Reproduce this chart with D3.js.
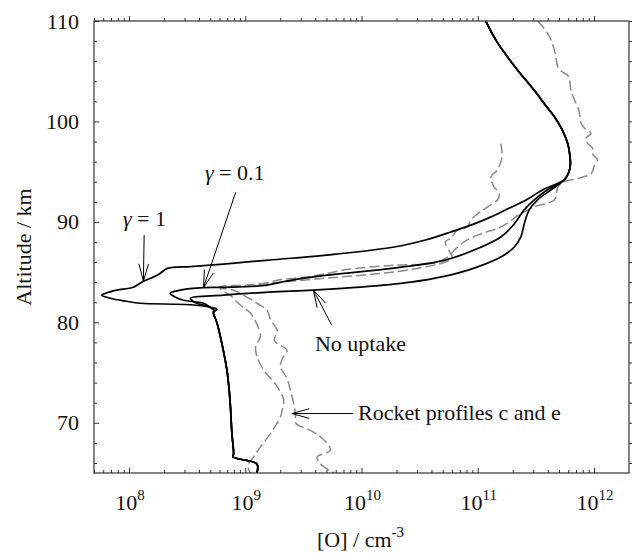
<!DOCTYPE html>
<html><head><meta charset="utf-8">
<script src="https://cdn.jsdelivr.net/npm/d3@7"></script>
<style>
html,body{margin:0;padding:0;background:#fff;}
svg text{font-family:"Liberation Serif","Times New Roman",serif;}
</style></head>
<body><svg id="c" width="634" height="553"></svg>
<script>
// ---------- data ----------
// shared upper part of the three model profiles (altitude km, [O] cm^-3)
const topAlt = [110, 108, 106.4, 105, 103.1, 101.5, 100.5, 99.3, 97.8, 96.8, 95.8, 95.0, 94.2];
const topVal = [1.17e11, 1.45e11, 1.81e11, 2.24e11, 3.06e11, 3.89e11, 4.55e11, 5.25e11, 5.94e11, 6.17e11, 6.27e11, 6.1e11, 5.56e11];
// shared lower part
const lowAlt = [81.2, 80.9, 80.0, 78.6, 77.0, 75.2, 73.5, 71.9, 69.0, 66.9, 66.6, 65.9, 65.0];
const lowVal = [5.37e8, 5.33e8, 5.69e8, 6.1e8, 6.53e8, 6.97e8, 7.24e8, 7.43e8, 7.67e8, 7.94e8, 7.85e8, 1.26e9, 1.26e9];
// gamma = 1
const g1Alt = [93.2, 92.2, 91.3, 90.5, 89.8, 89.0, 88.2, 87.5, 86.7, 86.2, 85.8, 85.55, 85.37, 84.87, 84.5, 84.1, 83.5, 83.2, 82.9, 82.7, 82.4, 82.1, 81.9, 81.75, 81.5, 81.3, 81.05];
const g1Val = [3.63e11, 2.63e11, 1.81e11, 1.30e11, 9.33e10, 5.89e10, 3.55e10, 1.91e10, 5.0e9, 1.6e9, 6.5e8, 3.36e8, 2.14e8, 1.85e8, 1.62e8, 1.33e8, 1.09e8, 7.85e7, 6.3e7, 5.82e7, 6.9e7, 9.5e7, 1.25e8, 3.36e8, 5.0e8, 5.7e8, 5.33e8];
// gamma = 0.1
const g01Alt = [93.2, 92.2, 91.2, 89.8, 88.5, 87.2, 86.2, 85.4, 84.7, 84.2, 83.65, 83.48, 83.45, 83.2, 82.9, 82.5, 82.2, 81.9, 81.5];
const g01Val = [3.98e11, 3.06e11, 2.51e11, 2.06e11, 1.58e11, 9.31e10, 5.25e10, 1.9e10, 5.07e9, 2.5e9, 1.4e9, 6.5e8, 4.37e8, 2.75e8, 2.26e8, 2.51e8, 2.95e8, 4.37e8, 5.0e8];
// no uptake
const nuAlt = [93.2, 92.2, 91.2, 89.8, 88.5, 87.5, 86.5, 85.4, 84.6, 84.0, 83.5, 83.2, 83.0, 82.7, 82.4, 82.1, 81.9, 81.5];
const nuVal = [4.27e11, 3.27e11, 2.77e11, 2.51e11, 2.35e11, 2.06e11, 1.58e11, 9.31e10, 5.25e10, 2.65e10, 9.8e9, 3.77e9, 1.6e9, 6.5e8, 3.37e8, 3.55e8, 3.84e8, 5.0e8];
// rocket profile c
const rcAlt = [110, 108.8, 107.1, 105.4, 105.0, 104.5, 103.2, 102.2, 101.1, 99.8, 99.2, 98.8, 98.3, 97.8, 97.3, 96.7, 96.2, 95.5, 94.8, 94.3, 94.0, 93.5, 92.2, 91.5, 90.8, 89.5, 88.8, 88.2, 87.5, 86.5, 85.9, 85.7, 85.3, 84.6, 84.2, 83.8, 83.5, 83.4, 83.2, 82.6, 81.9, 81.2, 80.2, 79.2, 78.2, 77.2, 76.4, 75.6, 74.4, 73.2, 71.9, 70.9, 69.9, 69.3, 68.6, 67.3, 66.6, 65.9, 65.0];
const rcVal = [3.27e11, 3.98e11, 4.57e11, 4.9e11, 5.25e11, 6.03e11, 6.31e11, 6.76e11, 7.41e11, 7.76e11, 8.5e11, 9.44e11, 8.5e11, 8.85e11, 9.77e11, 9.77e11, 1.07e12, 1.0e12, 9.44e11, 7.08e11, 5.56e11, 4.9e11, 4.57e11, 3.06e11, 2.34e11, 1.58e11, 1.06e11, 8.13e10, 6.7e10, 5.5e10, 4.21e10, 2.0e10, 7.94e9, 3.8e9, 1.88e9, 1.35e9, 7.08e8, 6.3e8, 7.94e8, 1.0e9, 1.26e9, 1.54e9, 1.66e9, 1.88e9, 1.78e9, 2.29e9, 2.09e9, 2.01e9, 2.29e9, 2.45e9, 2.61e9, 2.7e9, 2.75e9, 3.55e9, 4.44e9, 5.41e9, 4.15e9, 4.44e9, 5.78e9];
// rocket profile e
const reAlt = [97.8, 96.5, 95.2, 94.5, 93.5, 92.8, 92.2, 91.5, 90.8, 90.2, 89.5, 89.2, 88.4, 88.0, 87.0, 86.4, 86.0, 85.3, 84.8, 84.4, 84.0, 83.7, 83.5, 83.2, 82.7, 81.8, 80.9, 79.8, 78.6, 77.6, 76.6, 75.2, 74.4, 73.6, 72.3, 71.4, 70.6, 68.9, 67.6, 66.6, 65.9, 65.3, 65.0];
const reVal = [1.58e11, 1.62e11, 1.48e11, 1.30e11, 1.38e11, 1.53e11, 1.48e11, 1.22e11, 1.0e11, 8.71e10, 8.13e10, 6.7e10, 5.89e10, 5.25e10, 5.75e10, 6.03e10, 5.25e10, 2.82e10, 1.26e10, 5.0e9, 2.0e9, 1.0e9, 6.03e8, 6.3e8, 7.41e8, 8.91e8, 1.11e9, 1.26e9, 1.35e9, 1.23e9, 1.26e9, 1.45e9, 1.66e9, 1.88e9, 2.14e9, 2.09e9, 2.01e9, 1.64e9, 1.35e9, 1.18e9, 1.07e9, 1.07e9, 1.12e9];

const xMajor = [1e8, 1e9, 1e10, 1e11, 1e12];
const xMajorExp = ["8", "9", "10", "11", "12"];
const yMajor = [70, 80, 90, 100, 110];

// annotations: [label, textVal, textAlt, tailVal, tailAlt, tipVal, tipAlt]
const notes = [
  ["γ|= 1", 8.87e7, 89.59, 1.35e8, 88.69, 1.33e8, 84.1],
  ["γ|= 0.1", 4.5e8, 94.17, 8.28e8, 92.95, 4.37e8, 83.45],
  ["No uptake", 3.98e9, 77.14, 5.54e9, 79.73, 3.85e9, 83.22],
  ["Rocket profiles c and e", 9.33e9, 70.27, 8.45e9, 70.92, 2.52e9, 70.92]
];

// ---------- chart ----------
const FONT = "Liberation Serif, Times New Roman, serif";
const svg = d3.select("#c");
const L = 94, R = 629, T = 21, B = 473;
const x = d3.scaleLog().domain([5e7, 2e12]).range([L, R]);
const y = d3.scaleLinear().domain([65, 110]).range([B, T]);
const FS = 22;

function zip(a, v) { return a.map((d, i) => ({alt: d, val: v[i]})); }
const modelG1 = zip(topAlt, topVal).concat(zip(g1Alt, g1Val), zip(lowAlt, lowVal));
const modelG01 = zip(topAlt, topVal).concat(zip(g01Alt, g01Val), zip(lowAlt, lowVal));
const modelNU = zip(topAlt, topVal).concat(zip(nuAlt, nuVal), zip(lowAlt, lowVal));

svg.append("clipPath").attr("id", "pc").append("rect")
  .attr("x", L).attr("y", T).attr("width", R - L).attr("height", B - T);

const smooth = d3.line().x(d => x(d.val)).y(d => y(d.alt)).curve(d3.curveCatmullRom.alpha(0.5));

const plot = svg.append("g").attr("clip-path", "url(#pc)");
[zip(rcAlt, rcVal), zip(reAlt, reVal)].forEach(p => {
  plot.append("path").attr("d", smooth(p)).attr("fill", "none")
    .attr("stroke", "#8a8a8a").attr("stroke-width", 1.5).attr("stroke-dasharray", "10,4");
});
[modelG1, modelG01, modelNU].forEach(p => {
  plot.append("path").attr("d", smooth(p)).attr("fill", "none")
    .attr("stroke", "#000").attr("stroke-width", 1.7).attr("stroke-linejoin", "round");
});

// frame
svg.append("rect").attr("x", L).attr("y", T).attr("width", R - L).attr("height", B - T)
  .attr("fill", "none").attr("stroke", "#333").attr("stroke-width", 1.2);

const xMinor = [];
[7, 8, 9, 10, 11].forEach(e => { for (let m = 2; m <= 9; m++) { const v = m * Math.pow(10, e); if (v >= 5e7 && v <= 2e12) xMinor.push(v); } });
const yMinor = d3.range(66, 110, 2).filter(v => v % 10 !== 0);

function styleAxis(g) { g.select(".domain").remove(); g.selectAll("line").attr("stroke", "#333").attr("stroke-width", 1); }

svg.append("g").attr("transform", `translate(0,${B})`).call(d3.axisBottom(x).tickValues(xMinor).tickSize(-3).tickFormat("")).call(styleAxis);
svg.append("g").attr("transform", `translate(0,${B})`).call(d3.axisBottom(x).tickValues(xMajor).tickSize(-5).tickFormat("")).call(styleAxis);
svg.append("g").attr("transform", `translate(0,${T})`).call(d3.axisTop(x).tickValues(xMinor).tickSize(3).tickFormat("")).call(styleAxis);
svg.append("g").attr("transform", `translate(0,${T})`).call(d3.axisTop(x).tickValues(xMajor).tickSize(5).tickFormat("")).call(styleAxis);
svg.append("g").attr("transform", `translate(${L},0)`).call(d3.axisLeft(y).tickValues(yMinor).tickSize(-3).tickFormat("")).call(styleAxis);
svg.append("g").attr("transform", `translate(${L},0)`)
  .call(d3.axisLeft(y).tickValues(yMajor).tickSize(-5).tickPadding(15).tickFormat(d3.format("d")))
  .attr("font-family", FONT).attr("font-size", FS)
  .call(styleAxis)
  .call(g => g.selectAll("text").attr("fill", "#111"));
svg.append("g").attr("transform", `translate(${R},0)`).call(d3.axisRight(y).tickValues(yMinor.concat(yMajor)).tickSize(3).tickFormat("")).call(styleAxis);

// x tick labels 10^n
xMajor.forEach((v, i) => {
  const t = svg.append("text").attr("x", x(v) + 1).attr("y", 510).attr("text-anchor", "middle")
    .attr("font-family", FONT).attr("font-size", FS).attr("fill", "#111");
  t.append("tspan").text("10");
  t.append("tspan").attr("dy", -10).attr("font-size", 15).text(xMajorExp[i]);
});

// axis titles
const xt = svg.append("text").attr("x", (L + R) / 2 - 1).attr("y", 547).attr("text-anchor", "middle")
  .attr("font-family", FONT).attr("font-size", FS).attr("fill", "#111");
xt.append("tspan").text("[O] / cm");
xt.append("tspan").attr("dy", -10).attr("font-size", 15).text("-3");

svg.append("text").attr("transform", `translate(31,${(T + B) / 2}) rotate(-90)`).attr("text-anchor", "middle")
  .attr("font-family", FONT).attr("font-size", FS).attr("fill", "#111").text("Altitude / km");

// annotations
notes.forEach(n => {
  const [label, tv, ta, av, aa, pv, pa] = n;
  const t = svg.append("text").attr("x", x(tv)).attr("y", y(ta))
    .attr("font-family", FONT).attr("font-size", FS).attr("fill", "#111");
  if (label.includes("|")) {
    const [a, b] = label.split("|");
    t.append("tspan").attr("font-style", "italic").text(a);
    t.append("tspan").text(" " + b);
  } else t.text(label);
  const x1 = x(av), y1 = y(aa), x2 = x(pv), y2 = y(pa);
  svg.append("line").attr("x1", x1).attr("y1", y1).attr("x2", x2).attr("y2", y2).attr("stroke", "#000").attr("stroke-width", 1);
  const ang = Math.atan2(y1 - y2, x1 - x2), hl = 18, ha = 0.27;
  [ang - ha, ang + ha].forEach(a => {
    svg.append("line").attr("x1", x2).attr("y1", y2).attr("x2", x2 + hl * Math.cos(a)).attr("y2", y2 + hl * Math.sin(a))
      .attr("stroke", "#000").attr("stroke-width", 1);
  });
});
</script></body></html>
